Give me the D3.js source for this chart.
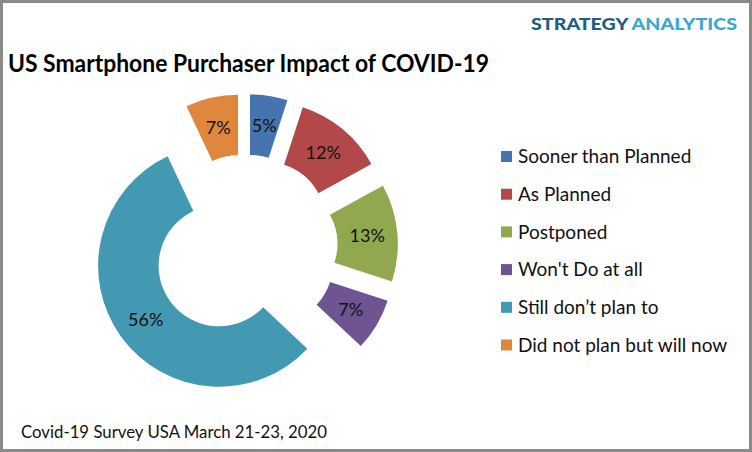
<!DOCTYPE html>
<html>
<head>
<meta charset="utf-8">
<script src="https://cdn.jsdelivr.net/npm/d3@7"></script>
<style>
  html, body { margin: 0; padding: 0; background: #fff; }
  svg { display: block; }
  text { font-family: Lato, "Open Sans", sans-serif; }
</style>
</head>
<body>
<svg id="chart" width="752" height="452"></svg>
<script>
const categories = ["Sooner than Planned", "As Planned", "Postponed", "Won't Do at all", "Still don\u2019t plan to", "Did not plan but will now"];
const values = [5, 12, 13, 7, 56, 7];
const colors = ["#4674AE", "#B3484A", "#92A84E", "#6E5592", "#4399B2", "#E0873E"];
const title = "US Smartphone Purchaser Impact of COVID-19";
const footnote = "Covid-19 Survey USA March 21-23, 2020";

const svg = d3.select("#chart");
const W = 752, H = 452;

// border
svg.append("rect").attr("x", 1.5).attr("y", 1.5).attr("width", W - 3).attr("height", H - 3)
  .attr("fill", "#fff").attr("stroke", "#8a8a8a").attr("stroke-width", 3);

// brand
const brand = svg.append("text").attr("x", 531).attr("y", 30)
  .attr("font-size", 16.5).attr("font-weight", 900).attr("textLength", 206).attr("lengthAdjust", "spacingAndGlyphs");
brand.append("tspan").attr("fill", "#1F5F7E").text("STRATEGY ");
brand.append("tspan").attr("fill", "#3EA6CF").text("ANALYTICS");

// title
svg.append("text").attr("x", 8).attr("y", 72).attr("font-size", 24).attr("font-weight", 700)
  .attr("fill", "#000").attr("textLength", 481).attr("lengthAdjust", "spacingAndGlyphs").text(title);

// donut
const cx = 245, cy = 247, R = 121, r = 60.5, explode = 32;
const pie = d3.pie().sort(null).value(d => d)(values);
const arc = d3.arc().innerRadius(r).outerRadius(R);
const g = svg.append("g").attr("transform", `translate(${cx},${cy})`);
const slices = g.selectAll("g.slice").data(pie).join("g").attr("class", "slice")
  .attr("transform", d => {
    const a = (d.startAngle + d.endAngle) / 2;
    return `translate(${explode * Math.sin(a)},${-explode * Math.cos(a)})`;
  });
slices.append("path").attr("d", arc).attr("fill", (d, i) => colors[i]);
slices.append("text").attr("transform", d => `translate(${arc.centroid(d)})`)
  .attr("text-anchor", "middle").attr("dy", "0.36em").attr("font-size", 18).attr("fill", "#111")
  .text(d => d.data + "%");

// legend
const legend = svg.append("g");
const ly = d3.scalePoint().domain(categories).range([156.5, 345]);
const items = legend.selectAll("g").data(categories).join("g")
  .attr("transform", d => `translate(501,${ly(d)})`);
items.append("rect").attr("x", 0).attr("y", -5.5).attr("width", 11).attr("height", 11)
  .attr("fill", (d, i) => colors[i]);
items.append("text").attr("x", 17).attr("dy", "0.36em").attr("font-size", 19).attr("fill", "#111").text(d => d);

// footnote
svg.append("text").attr("x", 21).attr("y", 438).attr("font-size", 16.8).attr("fill", "#111").text(footnote);
</script>
</body>
</html>
